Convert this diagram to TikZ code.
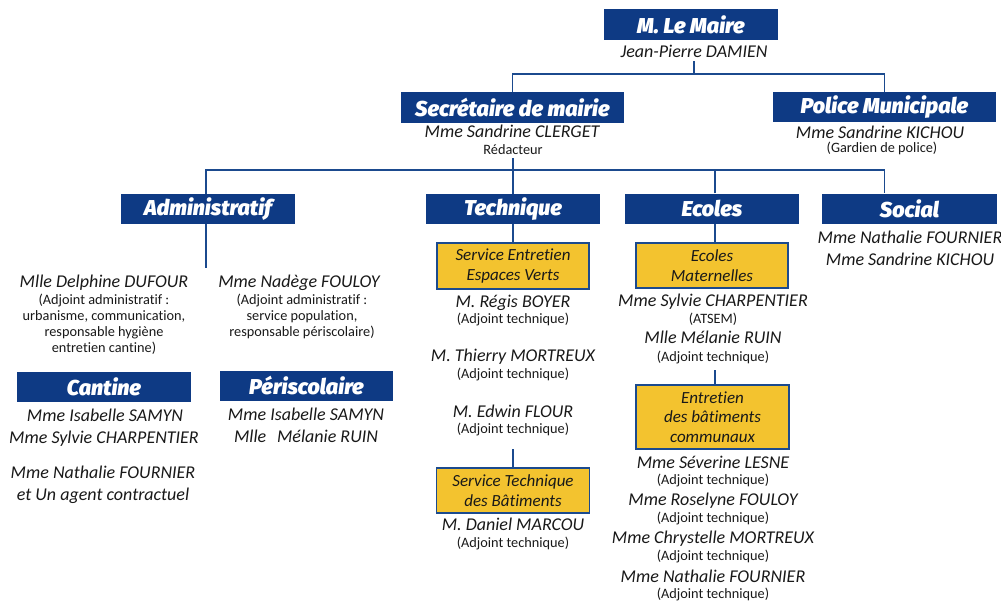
\documentclass[tikz,border=0pt]{standalone}
\usepackage{fontspec}
\setmainfont{Carlito}[Ligatures=NoCommon]
\newfontfamily\hdrfont{Fira Sans}[ItalicFont={* Black Italic}]
\definecolor{navy}{RGB}{14,58,132}
\definecolor{lineblue}{RGB}{27,74,142}
\definecolor{gold}{RGB}{243,195,47}
\definecolor{ink}{RGB}{25,25,25}
\begin{document}
\begin{tikzpicture}[x=1pt,y=-1pt,
  hdr/.style={fill=navy, inner sep=0, minimum height=30, text=white,
    font=\hdrfont\itshape\fontsize{21.5}{21.5}\selectfont},
  ybox/.style={fill=gold, draw=lineblue, line width=1.8, inner sep=0,
    minimum width=152, align=center, text=ink,
    font=\itshape\fontsize{17}{19.5}\selectfont},
  nm/.style={inner sep=0, text height=12.5, text depth=4, text=ink,
    font=\itshape\fontsize{18}{20}\selectfont},
  rl/.style={inner sep=0, text height=10.5, text depth=3.5, text=ink,
    font=\fontsize{14.3}{16}\selectfont},
  conn/.style={draw=lineblue, line width=1.8}]
\useasboundingbox (0,0) rectangle (1001,605);
\fill[white] (0,0) rectangle (1001,605);

% level 0
\node[hdr, minimum width=174, minimum height=31] (maire) at (691,24.5) {M. Le Maire};
\node[nm] (jp) at (694,53) {Jean-Pierre DAMIEN};

% level 1
\node[hdr, minimum width=223, minimum height=31] (secr) at (512.5,107.5) {Secrétaire de mairie};
\node[nm] (clerget) at (512,133) {Mme Sandrine CLERGET};
\node[rl] (redac) at (513,151) {Rédacteur};
\node[hdr, minimum width=223] (pol) at (884.5,107) {Police Municipale};
\node[nm] (kichou) at (880,134) {Mme Sandrine KICHOU};
\node[rl] (gard) at (882,149) {(Gardien de police)};

\coordinate (bar1) at (0,74);
\draw[conn] (jp.south) -- (jp.south |- bar1);
\draw[conn] (secr.north) -- (secr.north |- bar1) -- (pol.north |- bar1) -- (pol.north);

% level 2
\node[hdr, minimum width=174] (admin) at (208,209) {Administratif};
\node[hdr, minimum width=174] (tech) at (513,209) {Technique};
\node[hdr, minimum width=174] (ecol) at (712,208.5) {Ecoles};
\node[hdr, minimum width=175] (soc) at (909.5,208.5) {Social};

\coordinate (bar2) at (0,170);
\coordinate (admx) at (206,0);
\coordinate (ecox) at (715,0);
\draw[conn] (redac.south) -- (redac.south |- bar2);
\draw[conn] (admx |- admin.north) -- (admx |- bar2) -- (pol.north |- bar2) -- (pol.north |- soc.north);
\draw[conn] (tech.north) -- (tech.north |- bar2);
\draw[conn] (ecox |- ecol.north) -- (ecox |- bar2);

% Administratif
\coordinate (admend) at (206,268);
\draw[conn] (admx |- admin.south) -- (admend);
\node[nm] (dufour) at (104,283) {Mlle Delphine DUFOUR};
\node[rl] (duf1) at (104,301) {(Adjoint administratif :};
\node[rl] (duf2) at (104,317) {urbanisme, communication,};
\node[rl] (duf3) at (104,333) {responsable hygiène};
\node[rl] (duf4) at (104,349) {entretien cantine)};
\node[nm] (fouloy) at (299,283) {Mme Nadège FOULOY};
\node[rl] (fou1) at (302,301) {(Adjoint administratif :};
\node[rl] (fou2) at (302,317) {service population,};
\node[rl] (fou3) at (302,333) {responsable périscolaire)};

\node[hdr, minimum width=174] (cant) at (104,387) {Cantine};
\node[nm] (c1) at (105,417) {Mme Isabelle SAMYN};
\node[nm] (c2) at (104,439) {Mme Sylvie CHARPENTIER};
\node[nm] (c3) at (103,474) {Mme Nathalie FOURNIER};
\node[nm] (c4) at (103,496) {et Un agent contractuel};
\node[hdr, minimum width=173] (peri) at (306.5,386) {Périscolaire};
\node[nm] (p1) at (306,416) {Mme Isabelle SAMYN};
\node[nm] (p2) at (306,438) {Mlle\hspace{0.6em}Mélanie RUIN};

% Technique
\node[ybox, minimum height=46] (sev) at (513,266) {Service Entretien\\Espaces Verts};
\draw[conn] (tech.south) -- (sev.north);
\node[nm] (t1) at (513,303) {M. Régis BOYER};
\node[rl] (t1r) at (513,320) {(Adjoint technique)};
\node[nm] (t2) at (513,357) {M. Thierry MORTREUX};
\node[rl] (t2r) at (513,375) {(Adjoint technique)};
\node[nm] (t3) at (513,413) {M. Edwin FLOUR};
\node[rl] (t3r) at (513,430) {(Adjoint technique)};
\node[ybox, minimum height=45, minimum width=153] (stb) at (513,490.5) {Service Technique\\des Bâtiments};
\coordinate (stbtop) at (513,449);
\draw[conn] (stbtop) -- (stb.north);
\node[nm] (t4) at (513,526) {M. Daniel MARCOU};
\node[rl] (t4r) at (513,544) {(Adjoint technique)};

% Ecoles
\node[ybox, minimum height=45] (mat) at (712,265.5) {Ecoles\\Maternelles};
\draw[conn] (ecox |- ecol.south) -- (ecox |- mat.north);
\node[nm] (e1) at (713,302) {Mme Sylvie CHARPENTIER};
\node[rl] (e1r) at (713,320) {(ATSEM)};
\node[nm] (e2) at (713,339) {Mlle Mélanie RUIN};
\node[rl] (e2r) at (713,358) {(Adjoint technique)};
\node[ybox, minimum height=64, minimum width=153] (ebc) at (712.5,417) {Entretien\\des bâtiments\\communaux};
\coordinate (ebctop) at (715,370);
\draw[conn] (ebctop) -- (ebctop |- ebc.north);
\node[nm] (e3) at (713,464) {Mme Séverine LESNE};
\node[rl] (e3r) at (713,481) {(Adjoint technique)};
\node[nm] (e4) at (713,501) {Mme Roselyne FOULOY};
\node[rl] (e4r) at (713,519) {(Adjoint technique)};
\node[nm] (e5) at (713,539) {Mme Chrystelle MORTREUX};
\node[rl] (e5r) at (713,557) {(Adjoint technique)};
\node[nm] (e6) at (713,578) {Mme Nathalie FOURNIER};
\node[rl] (e6r) at (713,595) {(Adjoint technique)};

% Social
\node[nm] (s1) at (910,239) {Mme Nathalie FOURNIER};
\node[nm] (s2) at (910,261) {Mme Sandrine KICHOU};
\end{tikzpicture}
\end{document}
